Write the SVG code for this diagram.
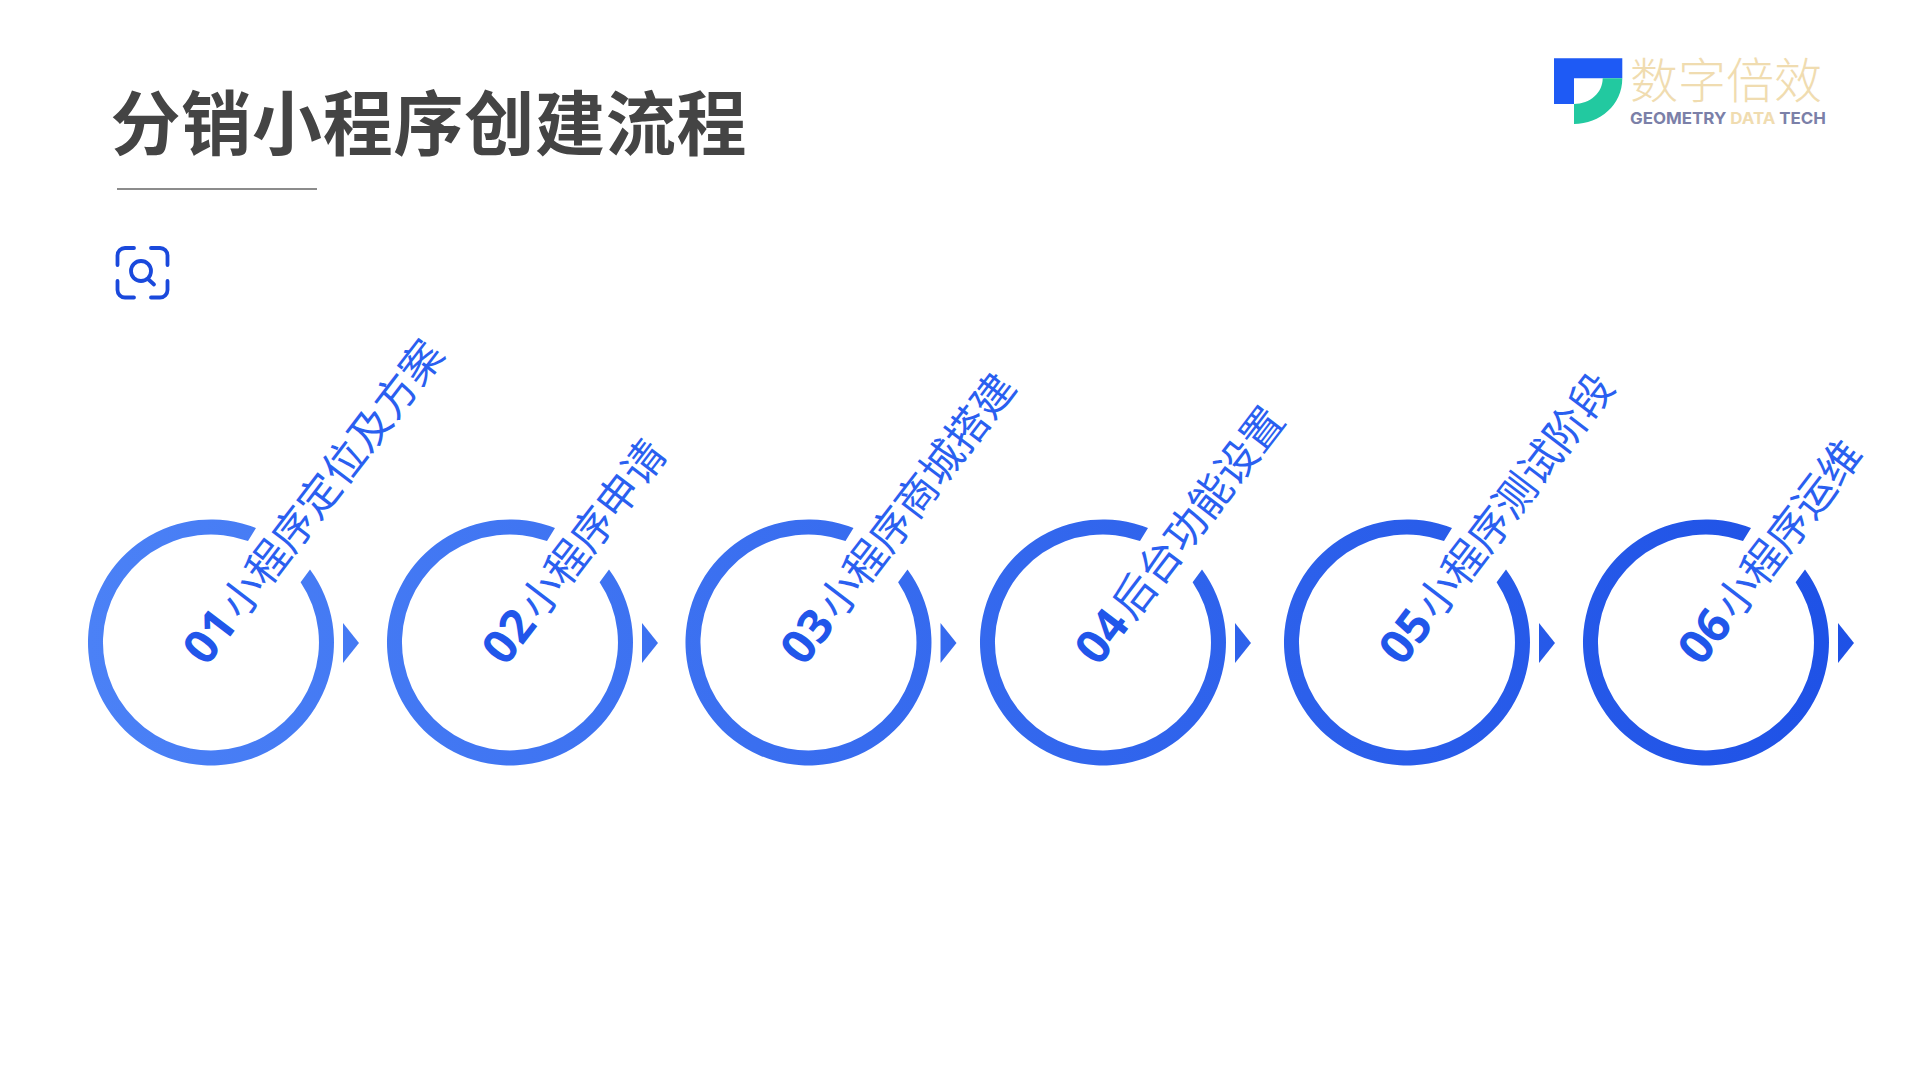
<svg xmlns="http://www.w3.org/2000/svg" width="1920" height="1080" viewBox="0 0 1920 1080">
<style>
.t{font-family:"Noto Sans CJK SC","Noto Sans",sans-serif}
.d{font-size:47px;font-weight:700;fill:#2156ea;font-family:"Noto Sans","Noto Sans CJK SC",sans-serif}
.c{font-size:42px;font-weight:400;fill:#2a5ff0}
.ring{fill:url(#g)}
</style>
<defs>
<linearGradient id="g" gradientUnits="userSpaceOnUse" x1="88" y1="642" x2="1860" y2="642">
<stop offset="0" stop-color="#4b81f6"/><stop offset="1" stop-color="#1e51e6"/>
</linearGradient>
</defs>
<rect width="1920" height="1080" fill="#fff"/>
<g id="title">
<text class="t" x="110.500" y="149.500" font-size="70" font-weight="700" fill="#444444" textLength="636">分销小程序创建流程</text>
<line x1="117" y1="189" x2="317" y2="189" stroke="#666" stroke-width="1.6"/>
</g>
<g id="icon" fill="none" stroke="#1a49dc" stroke-width="3.8" stroke-linecap="round">
<path d="M134 248H125a7.500 7.500 0 0 0-7.500 7.500V265M151 248H160a7.500 7.500 0 0 1 7.500 7.500V265M134 297.500H125a7.500 7.500 0 0 1-7.500-7.500V281M151 297.500H160a7.500 7.500 0 0 0 7.500-7.500V281"/>
<circle cx="141" cy="271" r="10"/>
<path d="M148 279L154 284.500"/>
</g>
<g id="logo">
<path d="M1554 58.300H1622.300V78.300H1574V104H1554Z" fill="#1e5af5"/>
<path d="M1602.700 78.300H1622.300C1622.300 105 1600 124 1574 124V104C1590 104 1602.700 93 1602.700 78.300Z" fill="#22c9a0"/>
<text class="t" x="1630" y="98" font-size="48" font-weight="300" fill="#f0dcb0" textLength="192">数字倍效</text>
<text x="1630" y="124.300" font-family="Inter,'Noto Sans',sans-serif" font-size="16" font-weight="700" fill="#7b80a8" textLength="196" lengthAdjust="spacingAndGlyphs">GEOMETRY <tspan fill="#f0dcb0">DATA</tspan> TECH</text>
</g>
<g id="connectors">
<path class="ring" d="M343 623L359 643L343 663Z"/>
<path class="ring" d="M642 623L658 643L642 663Z"/>
<path class="ring" d="M940.500 623L956.500 643L940.500 663Z"/>
<path class="ring" d="M1235 623L1251 643L1235 663Z"/>
<path class="ring" d="M1539 623L1555 643L1539 663Z"/>
<path class="ring" d="M1838 623L1854 643L1838 663Z"/>
</g>
<g id="node1">
<path class="ring" d="M310 569.500a123 123 0 1 1-54-41.500l-8 13a108 108 0 1 0 52.600 41.200z"/>
<text class="t" transform="translate(211 637) rotate(-52.600)" y="15"><tspan class="d" x="-27">01</tspan><tspan class="c" x="31">小程序定位及方案</tspan></text>
</g>
<g id="node2">
<path class="ring" d="M609 569.500a123 123 0 1 1-54-41.500l-8 13a108 108 0 1 0 52.600 41.200z"/>
<text class="t" transform="translate(510 637) rotate(-52.600)" y="15"><tspan class="d" x="-27">02</tspan><tspan class="c" x="31">小程序申请</tspan></text>
</g>
<g id="node3">
<path class="ring" d="M907.500 569.500a123 123 0 1 1-54-41.500l-8 13a108 108 0 1 0 52.600 41.200z"/>
<text class="t" transform="translate(808.500 637) rotate(-52.600)" y="15"><tspan class="d" x="-27">03</tspan><tspan class="c" x="31">小程序商城搭建</tspan></text>
</g>
<g id="node4">
<path class="ring" d="M1202 569.500a123 123 0 1 1-54-41.500l-8 13a108 108 0 1 0 52.600 41.200z"/>
<text class="t" transform="translate(1103 637) rotate(-52.600)" y="15"><tspan class="d" x="-27">04</tspan><tspan class="c" x="31">后台功能设置</tspan></text>
</g>
<g id="node5">
<path class="ring" d="M1506 569.500a123 123 0 1 1-54-41.500l-8 13a108 108 0 1 0 52.600 41.200z"/>
<text class="t" transform="translate(1407 637) rotate(-52.600)" y="15"><tspan class="d" x="-27">05</tspan><tspan class="c" x="31">小程序测试阶段</tspan></text>
</g>
<g id="node6">
<path class="ring" d="M1805 569.500a123 123 0 1 1-54-41.500l-8 13a108 108 0 1 0 52.600 41.200z"/>
<text class="t" transform="translate(1706 637) rotate(-52.600)" y="15"><tspan class="d" x="-27">06</tspan><tspan class="c" x="31">小程序运维</tspan></text>
</g>
</svg>
